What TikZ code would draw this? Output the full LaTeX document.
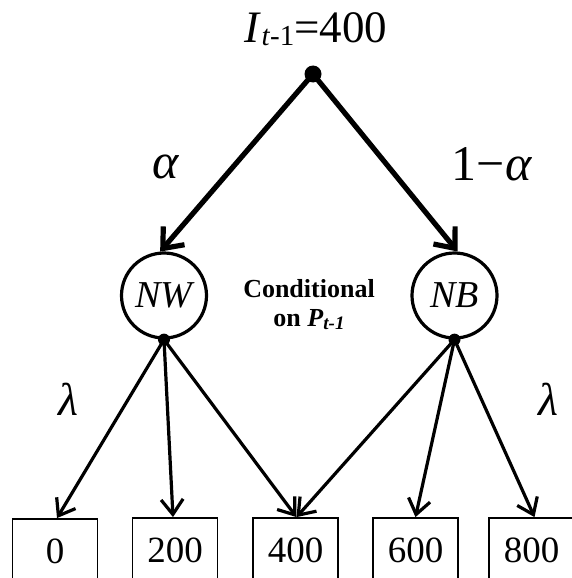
\documentclass[tikz,border=0pt]{standalone}
\usepackage{fontspec}
\setmainfont{Liberation Serif}
\usetikzlibrary{arrows.meta}
\tikzset{
  statenode/.style={circle,draw,line width=3.2pt,minimum size=85pt,inner sep=0pt,font=\fontsize{38}{38}\selectfont\itshape},
  valbox/.style={rectangle,draw,line width=1.8pt,minimum width=85pt,minimum height=64pt,inner sep=0pt,font=\fontsize{37}{37}\selectfont},
  bigdot/.style={circle,fill,inner sep=0pt,minimum size=17pt},
  smalldot/.style={circle,fill,inner sep=0pt,minimum size=12pt},
  thickarrow/.style={line width=5.2pt,-{Straight Barb[length=17pt,width=28pt,line width=5.2pt]}},
  thinarrow/.style={line width=3.2pt,-{Straight Barb[length=15pt,width=22pt,line width=3.2pt]}},
  problabel/.style={inner sep=0pt,font=\fontsize{50}{50}\selectfont}
}
\begin{document}
\begin{tikzpicture}[x=1pt,y=-1pt]
\path[use as bounding box] (0,0) rectangle (571,578);
% title
\node[anchor=base,inner sep=0pt,font=\fontsize{45}{45}\selectfont] (title) at (316,43)
  {\textit{I}\raisebox{-2pt}{\fontsize{29}{29}\selectfont\textit{t}-1}=400};
% top dot
\node[bigdot] (top) at (313,74) {};
% state nodes
\node[statenode] (NW) at (164,295.5) {NW};
\node[statenode] (NB) at (454.5,295.5) {NB};
\node[smalldot] (dW) at (NW.south) {};
\node[smalldot] (dB) at (NB.south) {};
% boxes
\node[valbox] (b0) at (55,551) {0};
\node[valbox] (b200) at (175,550) {200};
\node[valbox] (b400) at (295.5,550) {400};
\node[valbox] (b600) at (415.5,550) {600};
\node[valbox] (b800) at (531.5,550) {800};
% labels
\node[problabel] (alpha) at (166,167) {\textit{α}};
\node[problabel] (oneminus) at (492,164) {1−\textit{α}};
\node[problabel,font=\fontsize{46}{46}\selectfont] (lamL) at (68,399) {\textit{λ}};
\node[problabel,font=\fontsize{46}{46}\selectfont] (lamR) at (548,399) {\textit{λ}};
\node[align=center,inner sep=0pt,font=\fontsize{26}{29}\selectfont\bfseries] (cond) at (309,305)
  {Conditional\\on \textit{P}\raisebox{-3pt}{\fontsize{19}{19}\selectfont\textit{t-1}}};
% connectors
\draw[thickarrow] (top.center) -- (NW.95);
\draw[thickarrow] (top.center) -- (NB.86);
\draw[thinarrow] (dW.center) -- ([xshift=2pt]b0.north);
\draw[thinarrow] (dW.center) -- ([xshift=-2pt]b200.north);
\draw[thinarrow] (dW.center) -- ([xshift=1pt]b400.north);
\draw[thinarrow] (dB.center) -- ([xshift=1pt]b400.north);
\draw[thinarrow] (dB.center) -- (b600.north);
\draw[thinarrow] (dB.center) -- ([xshift=3pt]b800.north);
\end{tikzpicture}
\end{document}
